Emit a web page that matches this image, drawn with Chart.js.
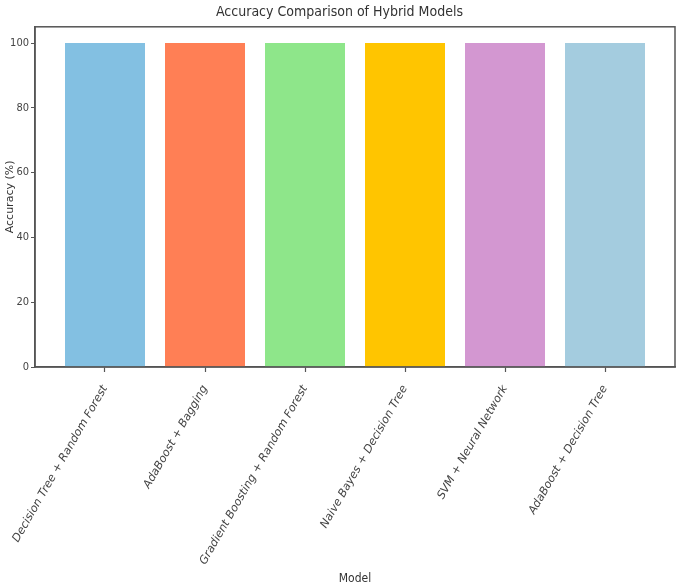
<!DOCTYPE html>
<html>
<head>
<meta charset="utf-8">
<script src="https://cdn.jsdelivr.net/npm/chart.js@4"></script>
<style>
  html, body { margin: 0; padding: 0; background: #fff; }
  #wrap { width: 678px; height: 588px; }
</style>
</head>
<body>
<div id="wrap"><canvas id="accChart" width="678" height="588"></canvas></div>
<script>
// Hybrid model accuracy bars (all models hit 100%).
const models = [
    'Decision Tree + Random Forest',
    'AdaBoost + Bagging',
    'Gradient Boosting + Random Forest',
    'Naive Bayes + Decision Tree',
    'SVM + Neural Network',
    'AdaBoost + Decision Tree'
];
const accuracy = [100, 100, 100, 100, 100, 100];
const barColors = ['#83C0E2', '#FF7F55', '#8EE68A', '#FFC500', '#D397D1', '#A4CCDF'];
const yTicks = [0, 20, 40, 60, 80, 100];

const axisColor = '#555';
const condensed = "'DejaVu Sans Condensed', 'Liberation Sans Narrow', 'DejaVu Sans', sans-serif";

// draws the matplotlib-style box around the plot area
const frame = {
    id: 'frame',
    afterDraw(chart) {
        const a = chart.chartArea;
        const ctx = chart.ctx;
        ctx.save();
        ctx.strokeStyle = axisColor;
        ctx.lineWidth = 1.5;
        ctx.strokeRect(a.left, a.top, a.right - a.left, a.bottom - a.top);
        ctx.restore();
    }
};

function initAccChart() {
    const canvas = document.getElementById('accChart');
    new Chart(canvas, {
        type: 'bar',
        data: {
            datasets: [{
                label: 'Accuracy',
                data: accuracy.map((v, i) => ({ x: i, y: v })),
                backgroundColor: barColors,
                borderWidth: 0,
                barPercentage: 0.8,
                categoryPercentage: 1.0
            }]
        },
        options: {
            responsive: false,
            animation: false,
            devicePixelRatio: 1,
            layout: { padding: { left: 4, right: 3, top: 1, bottom: 2 } },
            plugins: {
                legend: { display: false },
                tooltip: { enabled: false },
                title: {
                    display: true,
                    text: 'Accuracy Comparison of Hybrid Models',
                    color: '#333',
                    font: { family: condensed, size: 14, weight: 'normal' },
                    padding: { top: 3, bottom: 6 }
                }
            },
            scales: {
                x: {
                    type: 'linear',
                    min: -0.7,
                    max: 5.7,
                    offset: false,
                    afterBuildTicks: s => { s.ticks = models.map((m, i) => ({ value: i })); },
                    afterFit: s => { s.height = 219; },
                    grid: { display: true, offset: false, drawOnChartArea: false, drawTicks: true, tickLength: 5, tickWidth: 1.2, color: axisColor },
                    border: { color: axisColor, width: 1.5 },
                    ticks: {
                        color: '#444',
                        minRotation: 60,
                        maxRotation: 60,
                        autoSkip: false,
                        padding: 11,
                        font: { family: 'DejaVu Sans', size: 11.3, style: 'italic' },
                        callback: v => models[v]
                    },
                    title: {
                        display: true,
                        text: 'Model',
                        color: '#333',
                        font: { family: condensed, size: 12 },
                        padding: { top: 0, bottom: 0 }
                    }
                },
                y: {
                    min: 0,
                    max: 105,
                    afterBuildTicks: s => { s.ticks = yTicks.map(v => ({ value: v })); },
                    afterFit: s => { s.width = 31; },
                    grid: { display: true, drawOnChartArea: false, drawTicks: true, tickLength: 4, color: axisColor },
                    border: { color: axisColor, width: 1.5 },
                    ticks: {
                        color: '#444',
                        padding: 2,
                        font: { family: condensed, size: 11 }
                    },
                    title: {
                        display: true,
                        text: 'Accuracy (%)',
                        color: '#333',
                        font: { family: 'DejaVu Sans', size: 11 },
                        padding: { top: 0, bottom: 2 }
                    }
                }
            }
        },
        plugins: [frame]
    });
}
initAccChart();
</script>
</body>
</html>
